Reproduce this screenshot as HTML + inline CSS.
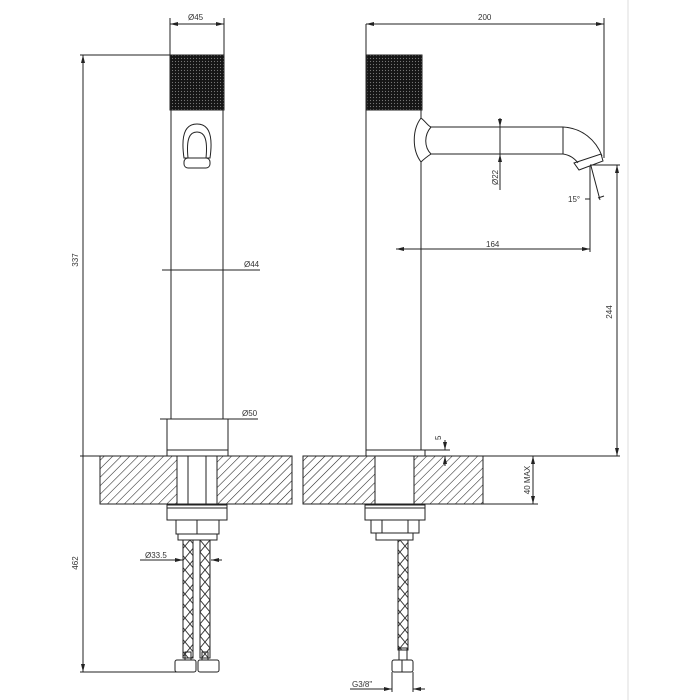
<!DOCTYPE html>
<html><head><meta charset="utf-8"><style>
html,body{margin:0;padding:0;background:#fff;width:700px;height:700px;overflow:hidden}
svg text{font-family:"Liberation Sans",sans-serif;font-size:8px;fill:#333}
</style></head><body>
<svg width="700" height="700" viewBox="0 0 700 700" xmlns="http://www.w3.org/2000/svg">
<defs>
<pattern id="h" width="6" height="6" patternUnits="userSpaceOnUse" patternTransform="rotate(45)">
<rect width="6" height="6" fill="#fff"/><line x1="0" y1="0" x2="0" y2="6" stroke="#222" stroke-width="1.1"/>
</pattern>
<pattern id="k" width="3" height="3" patternUnits="userSpaceOnUse">
<rect width="3" height="3" fill="#151515"/><circle cx="1.5" cy="1.5" r="0.6" fill="#777"/>
</pattern>
<pattern id="x" width="10" height="12" patternUnits="userSpaceOnUse">
<rect width="10" height="12" fill="#fff"/><path d="M0 0L10 12M10 0L0 12" stroke="#333" stroke-width="0.9"/>
</pattern>
<marker id="a" markerWidth="8" markerHeight="6" refX="8" refY="3" orient="auto-start-reverse" markerUnits="userSpaceOnUse"><path d="M0 1L8 3L0 5z" fill="#222"/></marker>
</defs>
<g stroke="#222" stroke-width="1" fill="none">
<line x1="628" y1="0" x2="628" y2="700" stroke="#ddd"/>
<!-- LEFT VIEW -->
<rect x="170" y="55" width="54" height="55" fill="url(#k)"/>
<line x1="171" y1="110" x2="171" y2="419"/><line x1="223" y1="110" x2="223" y2="419"/>
<rect x="167" y="419" width="61" height="31"/>
<rect x="167" y="450" width="61" height="6"/>
<path d="M184 158 C180 130 188 124 197 124 C206 124 214 130 210 158 Z"/>
<path d="M188 158 C186 138 190 132 197 132 C204 132 208 138 206 158"/>
<rect x="184" y="158" width="26" height="10" rx="4"/>
<line x1="170" y1="18" x2="170" y2="55"/><line x1="224" y1="18" x2="224" y2="55"/>
<line x1="170" y1="24" x2="224" y2="24" marker-start="url(#a)" marker-end="url(#a)"/>
<line x1="80" y1="55" x2="170" y2="55"/>
<line x1="83" y1="55" x2="83" y2="672" marker-start="url(#a)" marker-end="url(#a)"/>
<line x1="80" y1="456" x2="100" y2="456"/>
<line x1="80" y1="672" x2="178" y2="672"/>
<line x1="162" y1="270" x2="260" y2="270"/>
<line x1="160" y1="419" x2="258" y2="419"/>
<rect x="100" y="456" width="77" height="48" fill="url(#h)"/>
<rect x="217" y="456" width="75" height="48" fill="url(#h)"/>
<line x1="100" y1="456" x2="292" y2="456"/>
<line x1="100" y1="504" x2="292" y2="504"/>
<line x1="188" y1="456" x2="188" y2="504"/><line x1="206" y1="456" x2="206" y2="504"/>
<rect x="167" y="505" width="60" height="15"/><line x1="167" y1="508" x2="227" y2="508"/>
<rect x="176" y="520" width="43" height="14"/><line x1="197" y1="520" x2="197" y2="534"/>
<rect x="178" y="534" width="39" height="6"/>
<rect x="183" y="540" width="10" height="118" fill="url(#x)"/>
<rect x="200" y="540" width="10" height="118" fill="url(#x)"/>
<rect x="185" y="652" width="6" height="8"/><rect x="202" y="652" width="6" height="8"/>
<rect x="175" y="660" width="21" height="12" rx="2"/><rect x="198" y="660" width="21" height="12" rx="2"/>
<line x1="140" y1="560" x2="183" y2="560"/>
<line x1="172" y1="560" x2="183" y2="560" marker-end="url(#a)"/>
<line x1="222" y1="560" x2="211" y2="560" marker-end="url(#a)"/>
<!-- RIGHT VIEW -->
<rect x="367" y="55" width="55" height="55" fill="url(#k)"/>
<line x1="366" y1="24" x2="366" y2="450"/>
<line x1="421" y1="110" x2="421" y2="118"/><line x1="421" y1="162" x2="421" y2="450"/>
<path d="M421 118 C412 130 412 150 421 162"/>
<path d="M421 118 C426 122 428 126 431 127 M431 154 C428 156 425 158 421 162"/>
<path d="M431 127 C424 135 424 147 431 154"/>
<line x1="431" y1="127" x2="563" y2="127"/><line x1="431" y1="154" x2="563" y2="154"/>
<line x1="563" y1="127" x2="563" y2="154"/>
<path d="M563 127 C582 128 596 140 602 156"/>
<path d="M563 154 C570 155 575 159 578 163"/>
<path d="M574 163 L601 154 L603 161 L579 170 Z"/>
<rect x="366" y="450" width="59" height="6"/>
<line x1="366" y1="24" x2="604" y2="24" marker-start="url(#a)" marker-end="url(#a)"/>
<line x1="604" y1="18" x2="604" y2="158"/>
<line x1="500" y1="120" x2="500" y2="190"/>
<line x1="500" y1="118" x2="500" y2="127" marker-end="url(#a)"/>
<line x1="500" y1="163" x2="500" y2="154" marker-end="url(#a)"/>
<line x1="590" y1="165" x2="620" y2="165"/>
<line x1="590" y1="166" x2="590" y2="252"/>
<line x1="591" y1="166" x2="600" y2="200"/><line x1="598" y1="198" x2="604" y2="196"/>
<line x1="585" y1="199" x2="590" y2="199"/>
<line x1="396" y1="249" x2="590" y2="249" marker-start="url(#a)" marker-end="url(#a)"/>
<line x1="617" y1="165" x2="617" y2="456" marker-start="url(#a)" marker-end="url(#a)"/>
<rect x="303" y="456" width="72" height="48" fill="url(#h)"/>
<rect x="414" y="456" width="69" height="48" fill="url(#h)"/>
<line x1="303" y1="456" x2="620" y2="456"/>
<line x1="303" y1="504" x2="538" y2="504"/>
<line x1="445" y1="440" x2="445" y2="450" marker-end="url(#a)"/>
<line x1="445" y1="466" x2="445" y2="456" marker-end="url(#a)"/>
<line x1="425" y1="450" x2="450" y2="450"/>
<line x1="533" y1="456" x2="533" y2="504" marker-start="url(#a)" marker-end="url(#a)"/>
<rect x="365" y="505" width="60" height="15"/><line x1="365" y1="508" x2="425" y2="508"/>
<rect x="371" y="520" width="48" height="13"/><line x1="382" y1="520" x2="382" y2="533"/><line x1="408" y1="520" x2="408" y2="533"/>
<rect x="376" y="533" width="37" height="7"/>
<rect x="398" y="540" width="10" height="110" fill="url(#x)"/>
<rect x="399" y="648" width="8" height="12"/>
<rect x="392" y="660" width="21" height="12" rx="2"/><line x1="402" y1="660" x2="402" y2="672"/>
<line x1="392" y1="672" x2="392" y2="692"/><line x1="413" y1="672" x2="413" y2="692"/>
<line x1="350" y1="689" x2="392" y2="689" marker-end="url(#a)"/>
<line x1="425" y1="689" x2="413" y2="689" marker-end="url(#a)"/>
</g>
<text x="188" y="20">Ø45</text>
<text x="244" y="267">Ø44</text>
<text x="242" y="416">Ø50</text>
<text x="145" y="558">Ø33.5</text>
<text x="78" y="260" transform="rotate(-90 78 260)" text-anchor="middle">337</text>
<text x="78" y="563" transform="rotate(-90 78 563)" text-anchor="middle">462</text>
<text x="478" y="20">200</text>
<text x="498" y="185" transform="rotate(-90 498 185)">Ø22</text>
<text x="568" y="202">15°</text>
<text x="486" y="247">164</text>
<text x="612" y="312" transform="rotate(-90 612 312)" text-anchor="middle">244</text>
<text x="441" y="440" transform="rotate(-90 441 440)">5</text>
<text x="530" y="480" transform="rotate(-90 530 480)" text-anchor="middle">40 MAX</text>
<text x="352" y="687">G3/8"</text>
</svg>
</body></html>
